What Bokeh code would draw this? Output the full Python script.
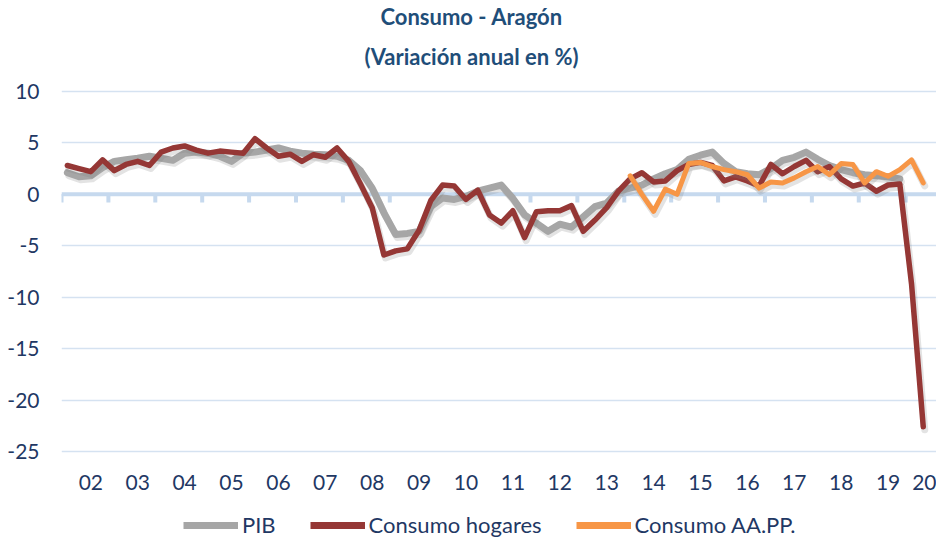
import numpy as np
from bokeh.plotting import figure
from bokeh.layouts import column
from bokeh.models import (Range1d, FixedTicker, Span, Legend, LegendItem,
                          ColumnDataSource, Title)
from bokeh.embed import file_html
from bokeh.resources import INLINE

# ---------------- data ----------------
years = ["02", "03", "04", "05", "06", "07", "08", "09", "10", "11",
         "12", "13", "14", "15", "16", "17", "18", "19", "20"]
quarters = [f"{2002 + i // 4}T{i % 4 + 1}" for i in range(74)]  # 2002T1 .. 2020T2

pib = [2.1, 1.7, 1.8, 2.6, 3.2, 3.35, 3.5, 3.7, 3.5, 3.3, 4.0, 4.1, 4.0, 3.7, 3.2, 4.0,
       4.1, 4.3, 4.5, 4.2, 4.0, 3.9, 3.85, 3.7, 3.3, 2.3, 0.6, -1.8, -3.9, -3.8, -3.6, -1.2,
       -0.35, -0.5, -0.2, 0.3, 0.6, 0.9, -0.4, -2.0, -2.8, -3.6, -2.9, -3.2, -2.2, -1.2, -0.85, 0.3,
       0.6, 0.9, 1.5, 2.0, 2.4, 3.4, 3.8, 4.1, 3.0, 2.2, 2.0, 1.9, 2.5, 3.3, 3.6, 4.1,
       3.4, 2.8, 2.4, 2.1, 1.9, 1.8, 1.7, 1.5]

hogares = [2.8, 2.5, 2.2, 3.35, 2.3, 2.9, 3.2, 2.8, 4.1, 4.5, 4.7, 4.3, 4.0, 4.2, 4.1, 4.0,
           5.4, 4.5, 3.7, 3.9, 3.2, 3.85, 3.6, 4.5, 3.2, 1.0, -1.3, -5.9, -5.5, -5.3, -3.5, -0.6,
           0.9, 0.8, -0.5, 0.4, -2.0, -2.8, -1.6, -4.2, -1.7, -1.6, -1.6, -1.1, -3.6, -2.5, -1.3, 0.3,
           1.5, 2.1, 1.2, 1.3, 2.3, 2.9, 3.1, 2.8, 1.3, 1.7, 1.3, 0.8, 2.9, 2.0, 2.7, 3.3,
           2.2, 2.7, 1.5, 0.8, 1.1, 0.3, 0.9, 1.0, -8.7, -22.6]

aapp_first = "2014T1"
aapp = [1.8, 0.0, -1.65, 0.5, 0.0, 3.0, 3.1, 2.7, 2.4, 2.2, 1.9, 0.6, 1.2, 1.1, 1.6, 2.2,
        2.7, 1.9, 3.0, 2.9, 1.1, 2.2, 1.75, 2.4, 3.35, 1.1]

y_ticks = [-25, -20, -15, -10, -5, 0, 5, 10]
y_labels = ["-25", "-20", "-15", "-10", "-5", "0", "5", "10"]

title_1 = "Consumo - Aragón"
title_2 = "(Variación anual  en %)"
series_names = ["PIB", "Consumo hogares", "Consumo AA.PP."]

# ---------------- layout ----------------
W = 936
LEFT, TOP, BOTTOM = 61, 78, 42
FW, FH = 875, 382
H = TOP + FH + BOTTOM
LEG_H = 36
X0, X1 = -0.5, 74.13
Y0, Y1 = -25.87, 11.06

NAVY = "#1F3864"
TITLE_C = "#1F4E79"
FONT = "Lato"
C_PIB, C_HOG, C_AAP = "#A6A6A6", "#953735", "#F79646"
W_PIB, W_HOG, W_AAP = 7, 5.5, 5

p = figure(width=W, height=H, output_backend="svg", toolbar_location=None,
           x_range=Range1d(X0, X1), y_range=Range1d(Y0, Y1),
           min_border_left=LEFT, min_border_right=0,
           min_border_top=TOP, min_border_bottom=BOTTOM)
p.outline_line_color = None
p.background_fill_color = "white"
p.title.visible = False

# shadow ranges (shift a few pixels right/down)
dx = 1.5 * (X1 - X0) / FW
dy = 3.0 * (Y1 - Y0) / FH
p.extra_x_ranges = {"sh": Range1d(X0 - dx, X1 - dx)}
p.extra_y_ranges = {"sh": Range1d(Y0 + dy, Y1 + dy)}

# titles (two lines, each centred on its own)
TSTYLE = dict(align="left", text_font=FONT, text_font_size="22px",
              text_font_style="bold", text_color=TITLE_C)
p.add_layout(Title(text=title_2, offset=303, standoff=22, **TSTYLE), "above")
p.add_layout(Title(text=title_1, offset=319, standoff=0, **TSTYLE), "above")

# grid
p.xgrid.grid_line_color = None
p.ygrid.ticker = FixedTicker(ticks=y_ticks)
p.ygrid.grid_line_color = "#D5E2F1"
p.ygrid.grid_line_width = 1.3

# axes
label_pos = [4 * k + 2 for k in range(len(years))]
p.xaxis.ticker = FixedTicker(ticks=label_pos)
p.xaxis.major_label_overrides = {pos: y for pos, y in zip(label_pos, years)}
p.yaxis.ticker = FixedTicker(ticks=y_ticks)
p.yaxis.major_label_overrides = {t: s for t, s in zip(y_ticks, y_labels)}
for ax in (p.xaxis, p.yaxis):
    ax.axis_line_color = None
    ax.major_tick_line_color = None
    ax.minor_tick_line_color = None
    ax.major_tick_out = 0
    ax.major_tick_in = 0
    ax.major_label_text_font = FONT
    ax.major_label_text_font_size = "21px"
    ax.major_label_text_color = NAVY
p.xaxis.major_label_standoff = 14
p.yaxis.major_label_standoff = 22

# zero axis line and category tick marks
AX_C = "#C6D9EE"
p.add_layout(Span(location=0, dimension="width", line_color=AX_C, line_width=4, level="underlay"))
bounds = np.arange(len(quarters) + 4)[::4] - 0.5
p.segment(x0=bounds, y0=np.zeros_like(bounds), x1=bounds, y1=np.full_like(bounds, -0.8),
          line_color=AX_C, line_width=4)

# series
x_all = np.arange(len(quarters))
src_pib = ColumnDataSource(dict(x=x_all[:len(pib)], y=pib))
src_hog = ColumnDataSource(dict(x=x_all[:len(hogares)], y=hogares))
i0 = quarters.index(aapp_first)
src_aap = ColumnDataSource(dict(x=x_all[i0:i0 + len(aapp)], y=aapp))
sources = (src_pib, src_hog, src_aap)
colors = (C_PIB, C_HOG, C_AAP)
widths = (W_PIB, W_HOG, W_AAP)

SH = dict(line_color="#808080", line_alpha=0.22, line_width=7, line_join="round",
          line_cap="round", x_range_name="sh", y_range_name="sh")
LS = dict(line_join="round", line_cap="round")
for src, col, lw in zip(sources, colors, widths):
    p.line("x", "y", source=src, **SH)
    p.line("x", "y", source=src, line_color=col, line_width=lw, **LS)

# ---------------- legend strip (separate small figure below the chart) ----------------
# its view range lies far away from the data, so only the legend shows
pl = figure(width=W, height=LEG_H, output_backend="svg", toolbar_location=None,
            x_range=Range1d(1000, 1001), y_range=Range1d(1000, 1001),
            x_axis_location=None, y_axis_location=None,
            min_border_left=0, min_border_right=0, min_border_top=0, min_border_bottom=0)
pl.outline_line_color = None
pl.xgrid.visible = False
pl.ygrid.visible = False
pl.title.visible = False
items = []
for name, src, col in zip(series_names, sources, colors):
    r = pl.line("x", "y", source=src, line_color=col, line_width=7)
    items.append(LegendItem(label=name, renderers=[r]))
# frames of the two figures are aligned by the column, so x is measured from x = 61
legend = Legend(items=items, orientation="horizontal", location=(122, 0),
                padding=0, margin=0, spacing=34, label_standoff=4,
                glyph_width=55, glyph_height=20, label_height=20,
                label_text_font=FONT, label_text_font_size="22px",
                label_text_color=NAVY, border_line_color=None,
                background_fill_alpha=0)
pl.add_layout(legend)

layout = column(p, pl, spacing=0)
open("out.html", "w").write(file_html(layout, INLINE))
